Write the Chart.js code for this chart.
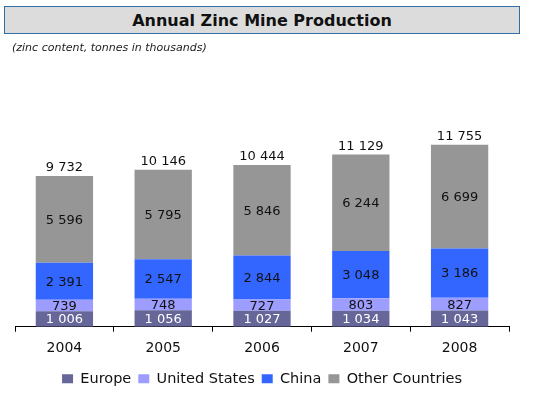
<!DOCTYPE html>
<html>
<head>
<meta charset="utf-8">
<script src="https://cdn.jsdelivr.net/npm/chart.js@4.4.1/dist/chart.umd.min.js"></script>
<style>
    body { margin: 0; background: #fff; font-family: "DejaVu Sans", sans-serif; }
    #wrap { position: relative; width: 542px; height: 397px; }
    #title {
        position: absolute; left: 4px; top: 6px; width: 514px; height: 26px;
        background: #dcdcdc; border: 1px solid #2f6fa6;
        font-weight: bold; font-size: 16px; line-height: 27px; text-align: center; color: #111;
    }
    #sub { position: absolute; left: 12px; top: 41px; font-size: 11px; font-style: italic; color: #222; }
    canvas { position: absolute; left: 0; top: 0; }
</style>
</head>
<body>
<div id="wrap">
    <canvas id="chart" width="542" height="397"></canvas>
    <div id="title">Annual Zinc Mine Production</div>
    <div id="sub">(zinc content, tonnes in thousands)</div>
</div>
<script>
const years = ['2004', '2005', '2006', '2007', '2008']
const europe = [1006, 1056, 1027, 1034, 1043]
const unitedStates = [739, 748, 727, 803, 827]
const china = [2391, 2547, 2844, 3048, 3186]
const otherCountries = [5596, 5795, 5846, 6244, 6699]
const totals = [9732, 10146, 10444, 11129, 11755]

const FONT = '"DejaVu Sans", sans-serif'

function fmt(n){
    return String(n).replace(/\B(?=(\d{3})+(?!\d))/g, ' ')
}

/*labels inside segments and totals above bars*/
const labelPlugin = {
    id: 'labels',
    afterDatasetsDraw(chart){
        const ctx = chart.ctx
        ctx.save()
        ctx.font = '13px ' + FONT
        ctx.textAlign = 'center'
        ctx.textBaseline = 'middle'
        chart.data.datasets.forEach(function(ds, i){
            chart.getDatasetMeta(i).data.forEach(function(bar, j){
                ctx.fillStyle = i == 0 ? '#ffffff' : '#111111'
                ctx.fillText(fmt(ds.data[j]), bar.x, (bar.y + bar.base) / 2 + 1)
            })
        })
        const top = chart.getDatasetMeta(3).data
        ctx.fillStyle = '#111111'
        top.forEach(function(bar, j){
            ctx.fillText(fmt(totals[j]), bar.x, bar.y - 8)
        })
        ctx.restore()
    }
}

const ctx = document.getElementById('chart').getContext('2d')
const myChart = new Chart(ctx, {
    type: 'bar',
    data: {
        labels: years,
        datasets: [
            { label: 'Europe', data: europe, backgroundColor: '#666699' },
            { label: 'United States', data: unitedStates, backgroundColor: '#9d9dff' },
            { label: 'China', data: china, backgroundColor: '#3366ff' },
            { label: 'Other Countries', data: otherCountries, backgroundColor: '#969696' }
        ]
    },
    options: {
        responsive: false,
        animation: false,
        layout: { padding: { top: 141, left: 15, right: 33, bottom: 1 } },
        datasets: { bar: { categoryPercentage: 1, barPercentage: 0.58 } },
        scales: {
            x: {
                stacked: true,
                grid: { display: true, drawOnChartArea: false, tickLength: 5, color: '#000' },
                border: { color: '#000' },
                ticks: { color: '#111', font: { size: 14, family: FONT }, padding: 8 }
            },
            y: { stacked: true, display: false, min: 0, max: 12000 }
        },
        plugins: {
            tooltip: { enabled: false },
            legend: {
                position: 'bottom',
                labels: {
                    boxWidth: 11, boxHeight: 9, padding: 7, color: '#111',
                    font: { size: 14.5, family: FONT }
                }
            }
        }
    },
    plugins: [labelPlugin]
})
</script>
</body>
</html>
